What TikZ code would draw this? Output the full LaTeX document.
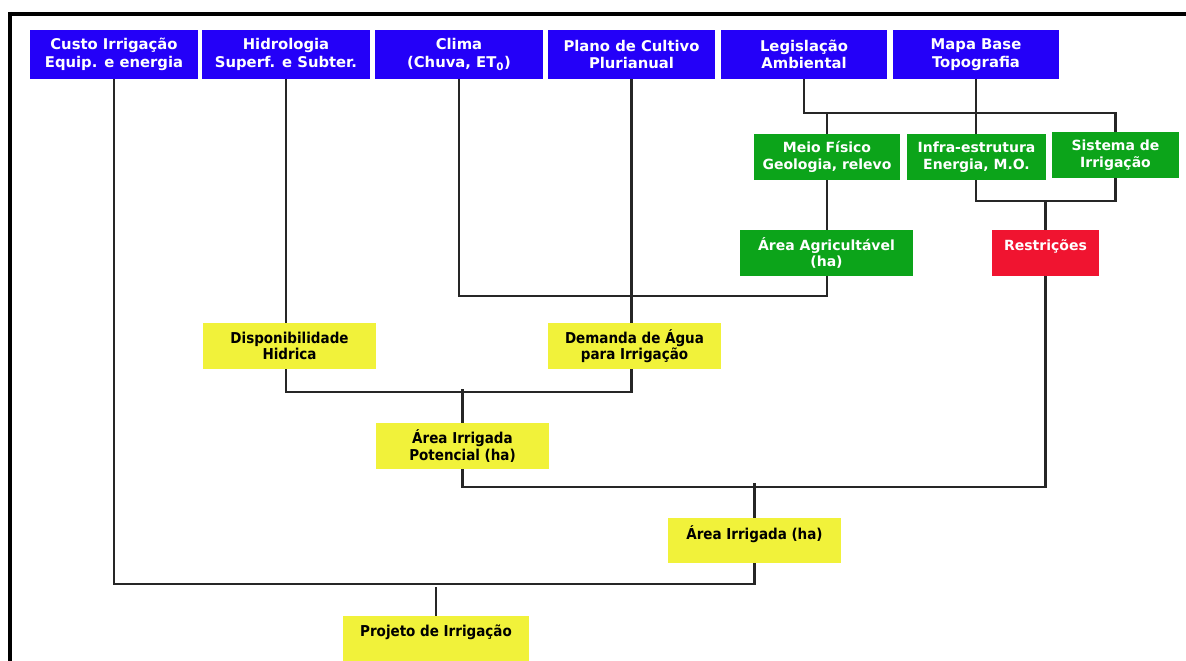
\documentclass[tikz,border=0pt]{standalone}
\usepackage{fontspec}
\usetikzlibrary{calc}
\newfontfamily\vfont{DejaVu Sans}
\newfontfamily\tfont{DejaVu Sans Condensed}[BoldFont={DejaVu Sans Condensed Bold}]
\definecolor{cblue}{RGB}{36,0,248}
\definecolor{cgreen}{RGB}{12,164,26}
\definecolor{cred}{RGB}{240,20,48}
\definecolor{cyel}{RGB}{241,242,58}
\begin{document}
\begin{tikzpicture}[x=1pt,y=-1pt,
  box/.style={draw=none, inner sep=0pt, align=center, anchor=center},
  bluebox/.style={box, fill=cblue, text=white, minimum height=49, font={\vfont\bfseries\fontsize{14.8}{17.5}\selectfont}},
  greenbox/.style={box, fill=cgreen, text=white, minimum height=46, font={\vfont\bfseries\fontsize{14}{16.5}\selectfont}},
  redbox/.style={box, fill=cred, text=white, minimum height=46, font={\vfont\bfseries\fontsize{14}{16.5}\selectfont}},
  yelbox/.style={box, fill=cyel, text=black, minimum height=46, font={\tfont\bfseries\fontsize{15}{16.5}\selectfont}},
  conn/.style={draw=black!85, line width=2.2pt, line join=miter},
  frame/.style={draw=black, line width=4pt}]
\useasboundingbox (0,0) rectangle (1186,661);
\fill[white] (0,0) rectangle (1186,661);
% frame
\draw[frame] (8,14) -- (1186,14);
\draw[frame] (10,12) -- (10,661);
% junction levels
\coordinate (j1) at (0,113);
\coordinate (j2) at (0,201);
\coordinate (j3) at (0,296);
\coordinate (j4) at (0,392);
\coordinate (j5) at (0,487);
\coordinate (j6) at (0,584);
% top row
\node[bluebox, minimum width=168] (c1) at (114,54.5) {Custo Irrigação\\Equip. e energia};
\node[bluebox, minimum width=168] (c2) at (286,54.5) {Hidrologia\\Superf. e Subter.};
\node[bluebox, minimum width=168] (c3) at (459,54.5) {Clima\\(Chuva, ET\textsubscript{0})};
\node[bluebox, minimum width=167] (c4) at (631.5,54.5) {Plano de Cultivo\\Plurianual};
\node[bluebox, minimum width=166] (c5) at (804,54.5) {Legislação\\Ambiental};
\node[bluebox, minimum width=166] (c6) at (976,54.5) {Mapa Base\\Topografia};
% green
\node[greenbox, minimum width=146] (meio) at (827,157) {Meio Físico\\Geologia, relevo};
\node[greenbox, minimum width=139] (infra) at (976.5,157) {Infra-estrutura\\Energia, M.O.};
\node[greenbox, minimum width=127] (sist) at (1115.5,155) {Sistema de\\Irrigação};
\node[greenbox, minimum width=173] (agric) at (826.5,253) {Área Agricultável\\(ha)};
\node[redbox, minimum width=107] (restr) at (1045.5,253) {Restrições\\\mbox{}};
% yellow
\node[yelbox, minimum width=173] (disp) at (289.5,346) {Disponibilidade\\Hidrica};
\node[yelbox, minimum width=173] (dem) at (634.5,346) {Demanda de Água\\para Irrigação};
\node[yelbox, minimum width=173] (aip) at (462.5,446) {Área Irrigada\\Potencial (ha)};
\node[yelbox, minimum width=173, minimum height=45] (airr) at (754.5,540.5) {Área Irrigada (ha)\\\mbox{}};
\node[yelbox, minimum width=186] (proj) at (436,639) {Projeto de Irrigação\\\mbox{}};
% connectors
\draw[conn] (c5.south) -- (c5.south |- j1) -- (sist.north |- j1) -- (sist.north);
\draw[conn] (meio.north |- j1) -- (meio.north);
\draw[conn] (c6.south) -- (c6.south |- infra.north);
\draw[conn] (c6.south |- infra.south) -- (c6.south |- j2) -- (sist.south |- j2) -- (sist.south);
\draw[conn] (restr.north |- j2) -- (restr.north);
\draw[conn] (meio.south) -- (meio.south |- agric.north);
\draw[conn] (meio.south |- agric.south) -- (meio.south |- j3) -- (c3.south |- j3) -- (c3.south);
\draw[conn] (c4.south) -- (c4.south |- dem.north);
\draw[conn] (c2.south) -- (c2.south |- disp.north);
\draw[conn] (c2.south |- disp.south) -- (c2.south |- j4) -- (c4.south |- j4) -- (c4.south |- dem.south);
\draw[conn] ($(aip.north |- j4)+(0,-3)$) -- (aip.north);
\draw[conn] (aip.south) -- (aip.south |- j5) -- (restr.south |- j5) -- (restr.south);
\draw[conn] ($(airr.north |- j5)+(0,-4)$) -- (airr.north);
\draw[conn] (airr.south) -- (airr.south |- j6) -- (c1.south |- j6) -- (c1.south);
\draw[conn] ($(proj.north |- j6)+(0,3)$) -- (proj.north);
\end{tikzpicture}
\end{document}
